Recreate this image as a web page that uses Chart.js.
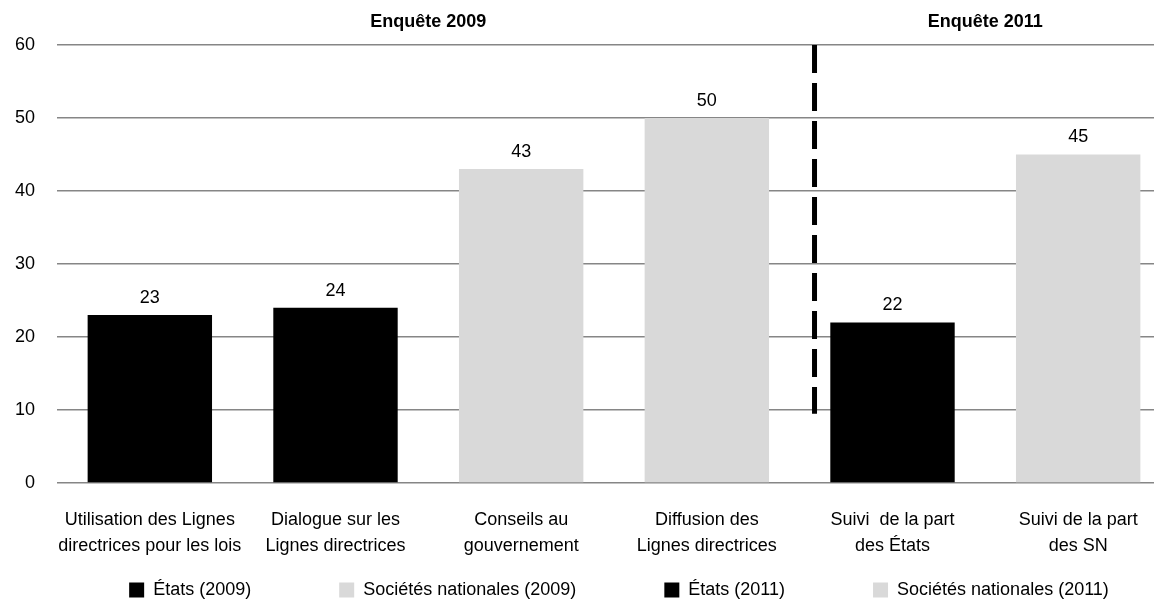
<!DOCTYPE html>
<html>
<head>
<meta charset="utf-8">
<script src="https://cdn.jsdelivr.net/npm/chart.js@4"></script>
<style>
  html, body { margin: 0; padding: 0; background: #fff; overflow: hidden; }
  #chartContainer { width: 1238px; height: 604px; }
</style>
</head>
<body>
<div id="chartContainer"><canvas id="myChart"></canvas></div>
<script>
const categories = [
    ["Utilisation des Lignes", "directrices pour les lois"],
    ["Dialogue sur les", "Lignes directrices"],
    ["Conseils au", "gouvernement"],
    ["Diffusion des", "Lignes directrices"],
    ["Suivi  de la part", "des États"],
    ["Suivi de la part", "des SN"]
];
const etats2009 = [23, 24, null, null, null, null];
const sn2009 = [null, null, 43, 50, null, null];
const etats2011 = [null, null, null, null, 22, null];
const sn2011 = [null, null, null, null, null, 45];
const seriesNames = ["États (2009)", "Sociétés nationales (2009)", "États (2011)", "Sociétés nationales (2011)"];
const yTicks = [0, 10, 20, 30, 40, 50, 60];
const groupTitles = ["Enquête 2009", "Enquête 2011"];

const fontName = "'Liberation Sans', Arial, sans-serif";
const noir = '#000000';
const gris = '#d9d9d9';
const legendPad = 88;

// la légende garde un grand écart horizontal sans prendre de hauteur
const legendFix = {
    id: 'legendFix',
    beforeUpdate(chart) {
        const lg = chart.legend;
        if (!lg || lg._patched) return;
        const fit = lg.fit;
        lg.fit = function () {
            fit.call(this);
            this.height = 30;
        };
        lg._patched = true;
    },
    afterLayout(chart) {
        const lg = chart.legend;
        lg.top = 590 - 9 - legendPad;
        lg.bottom = chart.height;
        lg.height = lg.bottom - lg.top;
        lg.left = 0;
        lg.right = chart.width;
        lg.width = chart.width;
    }
};

// labels au-dessus des barres + titres des deux enquêtes + ligne pointillée
const extras = {
    id: 'extras',
    afterDatasetsDraw(chart) {
        const ctx = chart.ctx;
        const x = chart.scales.x;
        const y = chart.scales.y;
        ctx.save();
        ctx.fillStyle = '#000';
        ctx.font = '18px ' + fontName;
        ctx.textAlign = 'center';
        ctx.textBaseline = 'bottom';
        chart.data.datasets.forEach((ds, i) => {
            const meta = chart.getDatasetMeta(i);
            meta.data.forEach((bar, j) => {
                if (ds.data[j] == null) return;
                ctx.fillText(ds.data[j], bar.x, bar.y - 8);
            });
        });

        ctx.font = 'bold 18px ' + fontName;
        ctx.textBaseline = 'middle';
        const c1 = (x.getPixelForValue(0) + x.getPixelForValue(3)) / 2;
        const c2 = (x.getPixelForValue(4) + x.getPixelForValue(5)) / 2;
        ctx.fillText(groupTitles[0], c1, 22);
        ctx.fillText(groupTitles[1], c2, 22);

        // séparation 2009 / 2011
        const xs = x.getPixelForValue(3) + (x.getPixelForValue(4) - x.getPixelForValue(3)) * 0.58;
        ctx.strokeStyle = '#000';
        ctx.lineWidth = 5;
        ctx.setLineDash([28, 10]);
        ctx.beginPath();
        ctx.moveTo(xs, y.getPixelForValue(60));
        ctx.lineTo(xs, y.getPixelForValue(9.5));
        ctx.stroke();
        ctx.restore();
    }
};

const ctx = document.getElementById('myChart');

new Chart(ctx, {
    type: 'bar',
    data: {
        labels: categories,
        datasets: [
            { label: seriesNames[0], data: etats2009, backgroundColor: noir },
            { label: seriesNames[1], data: sn2009, backgroundColor: gris },
            { label: seriesNames[2], data: etats2011, backgroundColor: noir },
            { label: seriesNames[3], data: sn2011, backgroundColor: gris }
        ]
    },
    options: {
        responsive: true,
        maintainAspectRatio: false,
        animation: false,
        grouped: false,
        barPercentage: 0.67,
        categoryPercentage: 1,
        layout: { padding: { top: 45, right: 67, left: 0, bottom: 11 } },
        plugins: {
            tooltip: { enabled: false },
            legend: {
                position: 'bottom',
                labels: {
                    color: '#000',
                    font: { family: fontName, size: 18 },
                    boxWidth: 15,
                    boxHeight: 15,
                    padding: legendPad
                }
            }
        },
        scales: {
            x: {
                grid: { display: false },
                border: { display: false },
                afterFit: (scale) => { scale.height = 80; },
                ticks: {
                    color: '#000',
                    font: { family: fontName, size: 18, lineHeight: 1.45 },
                    padding: 16,
                    maxRotation: 0,
                    autoSkip: false
                }
            },
            y: {
                min: 0,
                max: 60,
                afterFit: (scale) => { scale.width = 57; },
                afterBuildTicks: (scale) => { scale.ticks = yTicks.map(v => ({ value: v })); },
                grid: { color: '#868686', lineWidth: 1.5, drawTicks: false },
                border: { display: false },
                ticks: {
                    color: '#000',
                    font: { family: fontName, size: 18 },
                    padding: 22
                }
            }
        }
    },
    plugins: [legendFix, extras]
});
</script>
</body>
</html>
